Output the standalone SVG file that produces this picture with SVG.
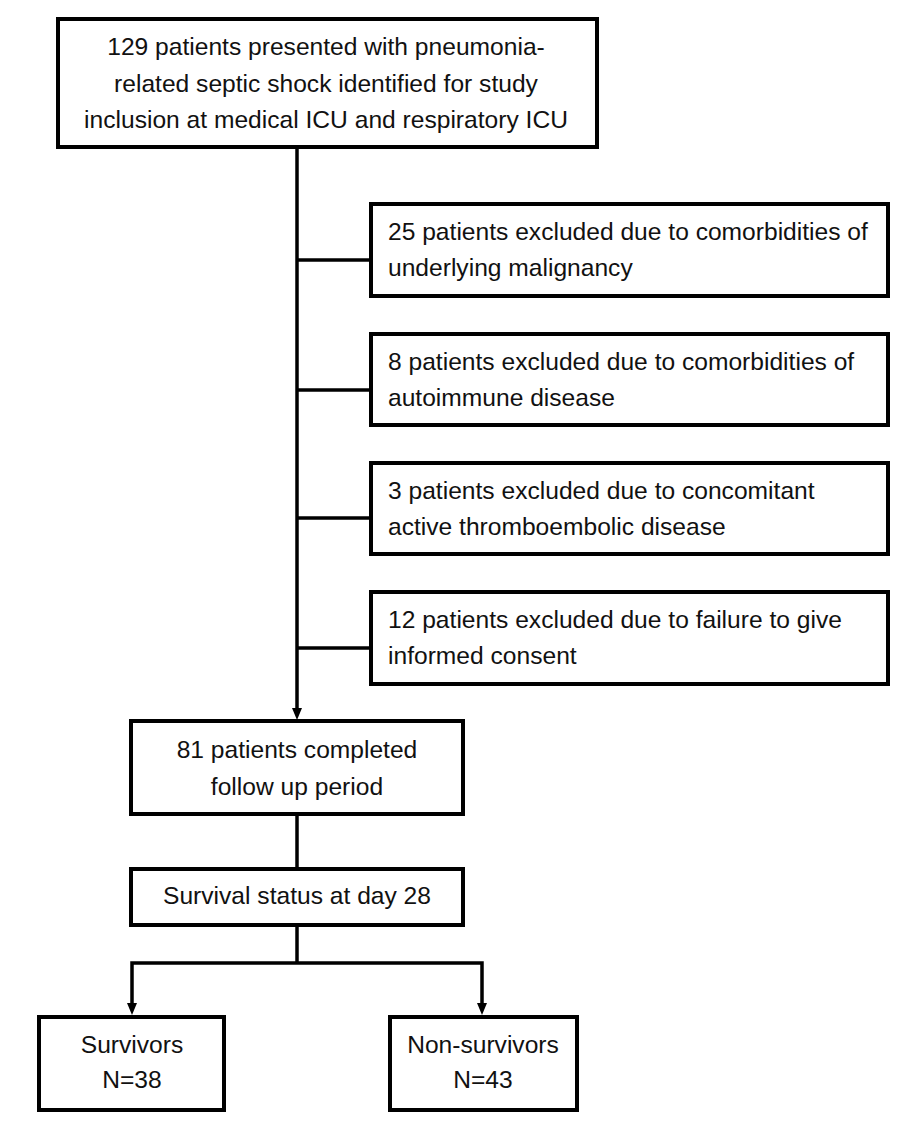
<svg xmlns="http://www.w3.org/2000/svg" width="920" height="1139" viewBox="0 0 920 1139">
<style>
.box{fill:#fff;stroke:#000;stroke-width:4}
.t{font-family:"Liberation Sans",Arial,sans-serif;font-size:24.6px;fill:#111}
.c{text-anchor:middle}
.ln{fill:none;stroke:#000;stroke-width:3.5}
</style>
<rect width="920" height="1139" fill="#fff"/>
<g id="connectors">
<line class="ln" x1="297" y1="147" x2="297" y2="708"/>
<path d="M292,708 L302,708 L297,720 Z" fill="#000"/>
<line class="ln" x1="297" y1="260" x2="371" y2="260"/>
<line class="ln" x1="297" y1="390" x2="371" y2="390"/>
<line class="ln" x1="297" y1="518" x2="371" y2="518"/>
<line class="ln" x1="297" y1="648" x2="371" y2="648"/>
<line class="ln" x1="297" y1="814" x2="297" y2="869"/>
<line class="ln" x1="297" y1="925" x2="297" y2="963"/>
<polyline class="ln" points="132,1003 132,963 482,963 482,1003"/>
<path d="M127,1003 L137,1003 L132,1015 Z" fill="#000"/>
<path d="M477,1003 L487,1003 L482,1015 Z" fill="#000"/>
</g>
<g id="n-start">
<rect class="box" x="58" y="19" width="539" height="128"/>
<text class="t c" x="326" y="55">129 patients presented with pneumonia-</text>
<text class="t c" x="326" y="92">related septic shock identified for study</text>
<text class="t c" x="326" y="128">inclusion at medical ICU and respiratory ICU</text>
</g>
<g id="n-ex1">
<rect class="box" x="371" y="204" width="517" height="92"/>
<text class="t" x="388" y="240">25 patients excluded due to comorbidities of</text>
<text class="t" x="388" y="276">underlying malignancy</text>
</g>
<g id="n-ex2">
<rect class="box" x="371" y="334" width="517" height="91"/>
<text class="t" x="388" y="370">8 patients excluded due to comorbidities of</text>
<text class="t" x="388" y="406">autoimmune disease</text>
</g>
<g id="n-ex3">
<rect class="box" x="371" y="463" width="517" height="91"/>
<text class="t" x="388" y="499">3 patients excluded due to concomitant</text>
<text class="t" x="388" y="535">active thromboembolic disease</text>
</g>
<g id="n-ex4">
<rect class="box" x="371" y="592" width="517" height="92"/>
<text class="t" x="388" y="628">12 patients excluded due to failure to give</text>
<text class="t" x="388" y="664">informed consent</text>
</g>
<g id="n-completed">
<rect class="box" x="131" y="721" width="332" height="93"/>
<text class="t c" x="297" y="758">81 patients completed</text>
<text class="t c" x="297" y="795">follow up period</text>
</g>
<g id="n-survival">
<rect class="box" x="131" y="869" width="332" height="56"/>
<text class="t c" x="297" y="904">Survival status at day 28</text>
</g>
<g id="n-survivors">
<rect class="box" x="39" y="1017" width="185" height="93"/>
<text class="t c" x="132" y="1053">Survivors</text>
<text class="t c" x="132" y="1088">N=38</text>
</g>
<g id="n-nonsurvivors">
<rect class="box" x="390" y="1017" width="187" height="93"/>
<text class="t c" x="483" y="1053">Non-survivors</text>
<text class="t c" x="483" y="1088">N=43</text>
</g>
</svg>
